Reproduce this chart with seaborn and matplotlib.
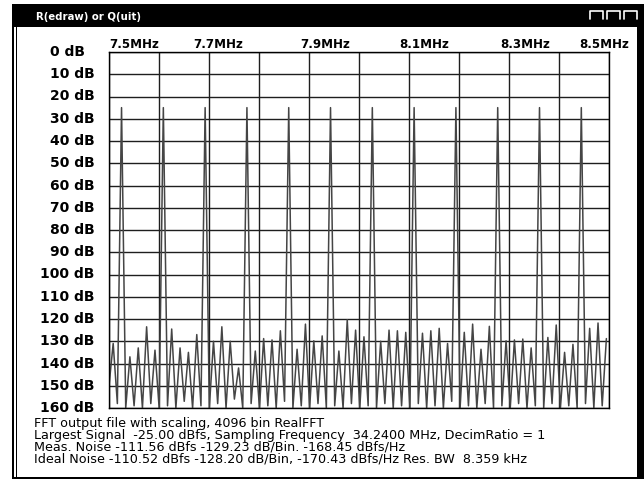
import numpy as np
import pandas as pd
import matplotlib
matplotlib.use("Agg")
import matplotlib.pyplot as plt
import matplotlib.transforms as mtransforms
from matplotlib.patches import Rectangle
from matplotlib.lines import Line2D
import seaborn as sns

# ---------------- data ----------------
title_text = "R(edraw) or Q(uit)"
freq_labels = ["7.5MHz", "7.7MHz", "7.9MHz", "8.1MHz", "8.3MHz", "8.5MHz"]
db_levels = [0, 10, 20, 30, 40, 50, 60, 70, 80, 90, 100, 110, 120, 130, 140, 150, 160]
db_labels = [f"{v} dB" for v in db_levels]
info_lines = [
    "FFT output file with scaling, 4096 bin RealFFT",
    "Largest Signal  -25.00 dBfs, Sampling Frequency  34.2400 MHz, DecimRatio = 1",
    "Meas. Noise -111.56 dBfs -129.23 dB/Bin. -168.45 dBfs/Hz",
    "Ideal Noise -110.52 dBfs -128.20 dB/Bin, -170.43 dBfs/Hz Res. BW  8.359 kHz",
]
start_freq_mhz = 7.5
sampling_freq_mhz = 34.24
fft_points = 4096

# level (dB below full scale) of each FFT bin shown, read from the display
bin_levels = [
    150, 131, 158, 25, 160, 137, 159, 133, 160, 123.5,
    158, 134, 160, 25, 159, 124.5, 160, 133, 157, 135,
    160, 127, 159, 25, 160, 130, 158, 123.5, 160, 130,
    156, 142, 160, 25, 158, 134.4, 160, 128.8, 159, 129.4,
    160, 125.3, 157, 25, 160, 133.6, 159, 122.3, 160, 129.8,
    158, 127.6, 160, 25, 159, 134.4, 160, 120.3, 158, 125,
    160, 128, 159, 25, 160, 130, 158, 125, 160, 125.3,
    159, 126, 160, 25, 158, 126.4, 160, 125.3, 159, 124.2,
    160, 131, 157, 25, 160, 126, 159, 122.3, 160, 133.6,
    158, 123.3, 160, 25, 159, 129.8, 160, 129.4, 158, 129,
    160, 133, 159, 25, 160, 128.3, 158, 122.7, 160, 135,
    159, 131.4, 160, 25, 158, 124.2, 160, 121.8, 159, 128.8,
]

bin_width = sampling_freq_mhz / fft_points
df = pd.DataFrame({
    "freq": [start_freq_mhz + i * bin_width for i in range(len(bin_levels))],
    "level": bin_levels,
})

# ---------------- layout ----------------
W, H = 644, 479
sns.set_style("white")
plt.rcParams["font.family"] = ["DejaVu Sans"]

fig = plt.figure(figsize=(W / 100, H / 100), dpi=100)
fig.patch.set_facecolor("white")


def fx(px):
    return px / W


def fy(py):
    return 1 - py / H


def rect(x0, y0, x1, y1, **kw):
    fig.patches.append(Rectangle((fx(x0), fy(y1)), fx(x1) - fx(x0), fy(y0) - fy(y1),
                                 transform=fig.transFigure, figure=fig, **kw))


# window frame
rect(12, 4, 644, 27, facecolor="black", edgecolor="none")
rect(12, 4, 14, 479, facecolor="black", edgecolor="none")
rect(15.5, 27, 16.5, 479, facecolor="black", edgecolor="none")
rect(637, 4, 644, 479, facecolor="black", edgecolor="none")
rect(12, 477, 644, 479, facecolor="black", edgecolor="none")

# title bar icons
for x0 in (590, 607, 624):
    xs = [fx(x0), fx(x0), fx(x0 + 13), fx(x0 + 13)]
    ys = [fy(19), fy(11), fy(11), fy(19)]
    fig.lines.append(Line2D(xs, ys, transform=fig.transFigure, color="white", lw=1.2))

fig.text(fx(36), fy(17), title_text, color="white", fontsize=7.3, fontweight="bold",
         ha="left", va="center")

# plot area
ax = fig.add_axes([fx(109), fy(408), fx(609) - fx(109), fy(52) - fy(408)])
sns.lineplot(data=df, x="freq", y="level", ax=ax, color="#454545", linewidth=1.1,
             estimator=None, sort=False)
ax.set_xlim(7.5, 8.5)
ax.set_ylim(160, 0)
ax.set_xticks([7.5 + 0.1 * k for k in range(11)])
ax.set_yticks(db_levels)
ax.tick_params(length=0, labelleft=False, labelbottom=False)
ax.grid(True, color="#1e1e1e", linewidth=1.0)
ax.set_axisbelow(True)
ax.set_xlabel("")
ax.set_ylabel("")
for sp in ax.spines.values():
    sp.set_color("black")
    sp.set_linewidth(1.0)

# y labels
trans = mtransforms.blended_transform_factory(fig.transFigure, ax.transData)
for v, lab in zip(db_levels, db_labels):
    x0 = 40 if v >= 100 else 50
    ax.text(fx(x0), v, lab, transform=trans, ha="left", va="center",
            fontsize=10, fontweight="bold", color="black", clip_on=False)

# frequency labels along the top
freq_label_left_px = [109, 193, 300, 399, 500, 579]
for lab, x0 in zip(freq_labels, freq_label_left_px):
    fig.text(fx(x0), fy(48), lab, ha="left", va="baseline", fontsize=8.6,
             fontweight="bold", color="black")

# info text (one block, tight line spacing like the original)
fig.text(fx(34), fy(417), "\n".join(info_lines), ha="left", va="top",
         fontsize=9.2, color="black", linespacing=0.9)

fig.savefig("out.png", dpi=100)
